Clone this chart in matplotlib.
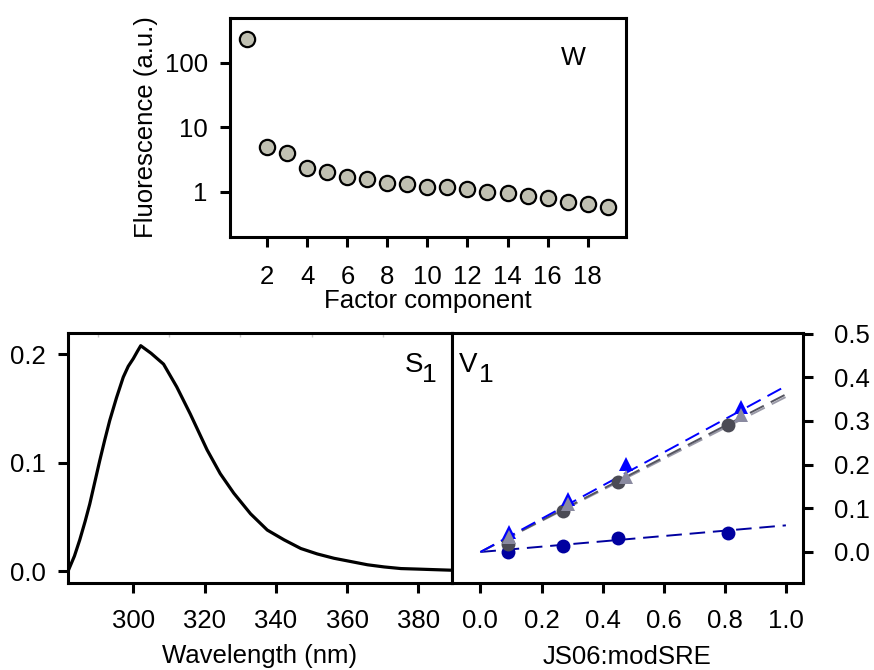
import numpy as np
import matplotlib
matplotlib.use("Agg")
import matplotlib.pyplot as plt
from matplotlib.ticker import FixedLocator, FixedFormatter

plt.rcParams['font.family'] = ['Liberation Sans', 'DejaVu Sans']

# 顶部：因子分量的荧光强度 (W)
component = list(range(1, 20))
fluor = [229, 4.9, 4.0, 2.34, 2.03, 1.70, 1.58, 1.37, 1.30, 1.20,
         1.18, 1.11, 1.00, 0.95, 0.85, 0.80, 0.69, 0.65, 0.58]

# 左下：光谱 S1
wavelength = [281.7, 283.5, 285.0, 286.5, 287.8, 289.2, 290.6, 292.0, 293.4, 295.3,
              297.2, 298.6, 300.0, 301.2, 302.1, 305.0, 308.5, 312.2, 316.0, 320.7,
              324.4, 328.2, 332.9, 337.6, 342.3, 347.0, 351.6, 356.3, 361.0, 365.7,
              370.4, 375.1, 380.0, 384.5, 389.2]
spectrum = [0.000, 0.014, 0.029, 0.046, 0.062, 0.082, 0.102, 0.121, 0.139, 0.160,
            0.179, 0.189, 0.196, 0.203, 0.208, 0.201, 0.191, 0.170, 0.145, 0.112,
            0.090, 0.072, 0.053, 0.038, 0.029, 0.021, 0.016, 0.012, 0.009, 0.006,
            0.004, 0.0025, 0.002, 0.0015, 0.001]

# 右下：V1 对 JS06:modSRE
v_x_circ = [0.09, 0.27, 0.45, 0.81]
v_x_tri = [0.095, 0.287, 0.475, 0.853]
v_navy = [0.000, 0.013, 0.031, 0.044]
v_dark = [0.019, 0.095, 0.160, 0.290]
v_blue = [0.046, 0.122, 0.202, 0.332]
v_light = [0.034, 0.109, 0.172, 0.313]
fit_x = np.array([0.0, 1.0])
slope_blue = 0.380
slope_dark = 0.361
slope_light = 0.355
slope_navy = 0.061

FS = 18.5
LW = 2.2

fig = plt.figure(figsize=(8.74, 6.70), dpi=100)

W, H = 874, 670


def add_ax(l, t, r, b):
    return fig.add_axes([l / W, 1 - b / H, (r - l) / W, (b - t) / H])


def style(ax):
    for s in ax.spines.values():
        s.set_linewidth(LW)
    ax.tick_params(direction='out', length=7, width=LW, labelsize=FS, pad=9)


# ---- 顶部面板 ----
ax1 = add_ax(230, 18, 626, 237)
style(ax1)
ax1.plot(component, fluor, 'o', ms=11, mfc='#c0c0b2', mec='black', mew=1.6, clip_on=False)
ax1.set_yscale('log')
ax1.set_ylim(0.2, 490)
ax1.set_xlim(0.135, 19.92)
ax1.yaxis.set_major_locator(FixedLocator([1, 10, 100]))
ax1.yaxis.set_major_formatter(FixedFormatter(['1', '10', '100']))
ax1.yaxis.set_minor_locator(FixedLocator([]))
ax1.set_xticks(range(2, 20, 2))
ax1.tick_params(axis='x', pad=13)
ax1.set_xlabel('Factor component', fontsize=FS, labelpad=0)
ax1.set_ylabel('Fluorescence (a.u.)', fontsize=FS, labelpad=5)
ax1.text(0.836, 0.785, 'W', transform=ax1.transAxes, fontsize=19, va='baseline')

# ---- 左下面板 ----
ax2 = add_ax(68, 333, 452, 583)
style(ax2)
ax2.plot(wavelength, spectrum, color='black', lw=2.3)
ax2.set_xlim(281.7, 389.4)
ax2.set_ylim(-0.0108, 0.2197)
ax2.set_xticks([300, 320, 340, 360, 380])
ax2.set_yticks([0.0, 0.1, 0.2])
ax2.set_yticklabels(['0.0', '0.1', '0.2'])
ax2.xaxis.set_minor_locator(FixedLocator([290, 310, 330, 350, 370]))
ax2.tick_params(axis='x', which='minor', bottom=False, top=True, direction='in',
                length=3, width=1, color='#c8c8c8')
ax2.tick_params(axis='x', pad=12)
ax2.set_xlabel('Wavelength (nm)', fontsize=FS, labelpad=8)
ax2.text(0.878, 0.844, 'S', transform=ax2.transAxes, fontsize=20, va='baseline')
ax2.text(0.923, 0.804, '1', transform=ax2.transAxes, fontsize=19, va='baseline')

# ---- 右下面板 ----
ax3 = add_ax(452, 333, 803, 583)
style(ax3)
dash = (8, 4)
ax3.plot(fit_x, slope_navy * fit_x, '--', color='#0000a0', lw=1.4, dashes=dash)
ax3.plot(fit_x, slope_light * fit_x, '--', color='#9a9aa8', lw=1.4, dashes=dash)
ax3.plot(fit_x, slope_dark * fit_x, '--', color='#555560', lw=1.4, dashes=dash)
ax3.plot(fit_x, slope_blue * fit_x, '--', color='#0000ff', lw=1.4, dashes=dash)
ax3.plot(v_x_circ, v_navy, 'o', ms=10, color='#0000a0', mew=0)
ax3.plot(v_x_circ, v_dark, 'o', ms=10, color='#4b4b55', mew=0)
ax3.plot(v_x_tri, v_blue, '^', ms=10.5, color='#0000ff', mew=0)
ax3.plot(v_x_tri, v_light, '^', ms=10.5, color='#8a8aa0', mew=0)
ax3.set_xlim(-0.093, 1.056)
ax3.set_ylim(-0.071, 0.5015)
ax3.set_xticks([0.0, 0.2, 0.4, 0.6, 0.8, 1.0])
ax3.set_xticklabels(['0.0', '0.2', '0.4', '0.6', '0.8', '1.0'])
ax3.set_yticks([0.0, 0.1, 0.2, 0.3, 0.4, 0.5])
ax3.set_yticklabels(['0.0', '0.1', '0.2', '0.3', '0.4', '0.5'])
ax3.yaxis.tick_right()
ax3.tick_params(axis='y', pad=15)
ax3.tick_params(axis='x', pad=12)
ax3.set_xlabel('JS06:modSRE', fontsize=FS, labelpad=8)
ax3.text(0.020, 0.844, 'V', transform=ax3.transAxes, fontsize=20, va='baseline')
ax3.text(0.078, 0.804, '1', transform=ax3.transAxes, fontsize=19, va='baseline')

fig.savefig('out.png', dpi=100)
